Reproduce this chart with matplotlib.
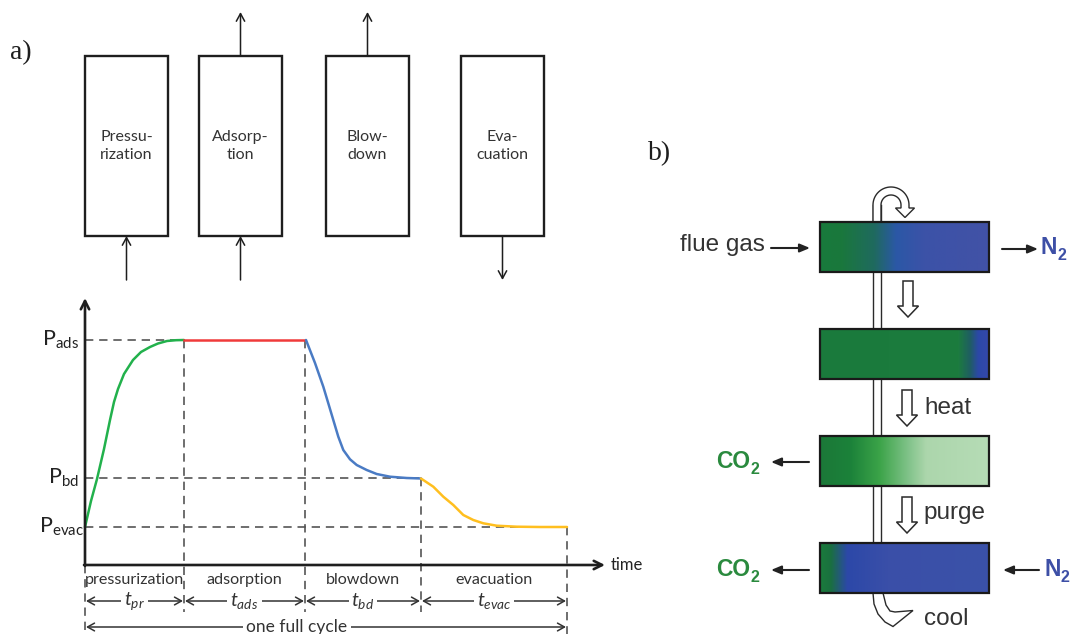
import numpy as np
import matplotlib
matplotlib.use('Agg')
import matplotlib.pyplot as plt
from matplotlib.patches import Rectangle, Polygon
from matplotlib.colors import LinearSegmentedColormap

plt.rcParams['mathtext.fontset'] = 'custom'
plt.rcParams['mathtext.rm'] = 'Lato'
plt.rcParams['mathtext.it'] = 'Lato:italic'
plt.rcParams['mathtext.bf'] = 'Liberation Sans:bold'

W, H = 1082, 634

# ---------------- data: panel a ----------------
phase_names = ['pressurization', 'adsorption', 'blowdown', 'evacuation']
box_labels = ['Pressu-\nrization', 'Adsorp-\ntion', 'Blow-\ndown', 'Eva-\ncuation']
time_subs = ['pr', 'ads', 'bd', 'evac']
flow_in_bottom = [True, True, False, False]
flow_out_top = [False, True, True, False]
flow_out_bottom = [False, False, False, True]

phase_bounds = [0.0, 9.9, 22.0, 33.6, 48.2]
P_ads, P_bd, P_evac = 22.5, 8.7, 3.8
level_labels = ['ads', 'bd', 'evac']

pr_t = [0.0, 0.6, 1.2, 1.9, 2.5, 2.9, 3.3, 3.9, 4.8, 5.6, 6.5, 7.3, 8.2, 9.1, 9.9]
pr_p = [3.8, 6.4, 8.6, 11.6, 14.5, 16.3, 17.6, 19.1, 20.5, 21.3, 21.8, 22.15, 22.4, 22.48, 22.5]
ads_t = [9.9, 22.0]
ads_p = [22.5, 22.5]
bd_t = [22.1, 23.0, 23.83, 24.33, 24.83, 25.33, 25.83, 26.5, 27.17, 28.17, 29.17, 30.5, 32.17, 33.6]
bd_p = [22.5, 20.2, 17.83, 16.17, 14.5, 12.83, 11.5, 10.57, 10.0, 9.5, 9.1, 8.83, 8.7, 8.65]
ev_t = [33.6, 34.83, 35.83, 36.83, 37.83, 38.83, 39.83, 41.17, 43.17, 45.5, 48.2]
ev_p = [8.65, 7.83, 6.83, 6.0, 5.0, 4.5, 4.17, 3.93, 3.83, 3.8, 3.8]

# ---------------- data: panel b ----------------
bar_stops = [
    [(0.0, '#187a3c'), (0.12, '#1a783c'), (0.32, '#1f6a5e'), (0.45, '#2b58a6'), (0.62, '#3c52a8'), (1.0, '#4252a6')],
    [(0.0, '#1a7a3c'), (0.82, '#1c7c3e'), (0.89, '#1f5e62'), (0.94, '#2c48a8'), (1.0, '#3448aa')],
    [(0.0, '#1b7838'), (0.18, '#1c823a'), (0.35, '#3ba348'), (0.52, '#7fc288'), (0.63, '#acd6ac'), (1.0, '#b6dcb6')],
    [(0.0, '#1a7a3c'), (0.06, '#1a703f'), (0.16, '#2c48a8'), (0.4, '#3a4fa8'), (1.0, '#3b52a8')],
]
step_labels = ['heat', 'purge', 'cool']

fig = plt.figure(figsize=(W / 100, H / 100), dpi=100)
ax = fig.add_axes([0, 0, 1, 1])
ax.set_xlim(0, W)
ax.set_ylim(H, 0)
ax.axis('off')

serif = 'Liberation Serif'
cal = 'Lato'
hel = 'Liberation Sans'
ink = '#1e1e1e'

# panel labels
ax.text(10, 53, 'a)', fontsize=20, family=serif, va='center', ha='left', color=ink)
ax.text(648, 154, 'b)', fontsize=20, family=serif, va='center', ha='left', color=ink)

# ---------------- top boxes ----------------
box_left = [85, 199, 326, 461]
box_w, box_top, box_bot = 83, 56, 236
arr_len = 44
for i, x0 in enumerate(box_left):
    ax.add_patch(Rectangle((x0, box_top), box_w, box_bot - box_top, fill=False,
                           lw=1.7, edgecolor=ink))
    cx = x0 + box_w / 2
    ax.text(cx, 146, box_labels[i], family=cal, fontsize=11.5, ha='center',
            va='center', linespacing=1.45, color='#333')
    ap = dict(arrowstyle='->,head_length=0.55,head_width=0.3', lw=1.1, color=ink,
              shrinkA=0, shrinkB=0)
    if flow_in_bottom[i]:
        ax.annotate('', xy=(cx, box_bot), xytext=(cx, box_bot + arr_len), arrowprops=ap)
    if flow_out_top[i]:
        ax.annotate('', xy=(cx, box_top - arr_len), xytext=(cx, box_top), arrowprops=ap)
    if flow_out_bottom[i]:
        ax.annotate('', xy=(cx, box_bot + arr_len), xytext=(cx, box_bot), arrowprops=ap)

# ---------------- pressure chart ----------------
axc = fig.add_axes([85 / W, (H - 565) / H, 520 / W, 267 / H])
axc.set_xlim(0, 52)
axc.set_ylim(0, 26.7)
axc.axis('off')
axc.patch.set_alpha(0)

dash = dict(color='#555555', lw=1.2, dashes=(5, 3.5), clip_on=False)
axc.plot([0, phase_bounds[1]], [P_ads, P_ads], **dash)
axc.plot([0, phase_bounds[3]], [P_bd, P_bd], **dash)
axc.plot([0, phase_bounds[4]], [P_evac, P_evac], **dash)
axc.plot([0, 0], [0, -6.9], **dash)
axc.plot([phase_bounds[1]] * 2, [P_ads, -4.7], **dash)
axc.plot([phase_bounds[2]] * 2, [P_ads, -4.7], **dash)
axc.plot([phase_bounds[3]] * 2, [P_bd, -4.7], **dash)
axc.plot([phase_bounds[4]] * 2, [P_evac, -6.9], **dash)

axc.plot(pr_t, pr_p, color='#22b14c', lw=1.8, clip_on=False, solid_capstyle='round')
axc.plot(ads_t, ads_p, color='#f03a3a', lw=1.8, clip_on=False)
axc.plot(bd_t, bd_p, color='#4a7bc4', lw=1.8, clip_on=False, solid_capstyle='round')
axc.plot(ev_t, ev_p, color='#ffbf1f', lw=1.8, clip_on=False, solid_capstyle='round')

axp = dict(arrowstyle='->,head_length=0.6,head_width=0.3', lw=1.9, color=ink,
           shrinkA=0, shrinkB=0)
axc.annotate('', xy=(52, 0), xytext=(-0.1, 0), arrowprops=axp, annotation_clip=False)
axc.annotate('', xy=(0, 26.7), xytext=(0, -0.1), arrowprops=axp, annotation_clip=False)
axc.text(52.6, 0, 'time', family=cal, fontsize=12, va='center', ha='left', color='#222')

for lab, lev, xoff in zip(level_labels, [P_ads, P_bd, P_evac], [-4.3, -3.7, -4.6]):
    axc.text(xoff, lev, r'$\mathrm{P}_{\mathrm{%s}}$' % lab, fontsize=15.5, ha='left',
             va='center', color='#222', clip_on=False)

for i, name in enumerate(phase_names):
    a, b = phase_bounds[i], phase_bounds[i + 1]
    m = (a + b) / 2
    axc.text(m, -1.5, name, family=cal, fontsize=11.6, ha='center', va='center',
             color='#333', clip_on=False)
    axc.annotate('', xy=(a + 0.1, -3.6), xytext=(b - 0.1, -3.6),
                 arrowprops=dict(arrowstyle='<->,head_length=0.5,head_width=0.28',
                                 lw=1.1, color='#333', shrinkA=0, shrinkB=0),
                 annotation_clip=False)
    axc.text(m, -3.6, r'$t_{%s}$' % time_subs[i], fontsize=14, ha='center',
             va='center', color='#333', clip_on=False,
             bbox=dict(boxstyle='square,pad=0.15', fc='white', ec='none'))

axc.annotate('', xy=(0.1, -6.2), xytext=(phase_bounds[-1] - 0.1, -6.2),
             arrowprops=dict(arrowstyle='<->,head_length=0.5,head_width=0.28',
                             lw=1.1, color='#333', shrinkA=0, shrinkB=0),
             annotation_clip=False)
axc.text(21.2, -6.2, 'one full cycle', family=cal, fontsize=12.5, ha='center',
         va='center', color='#333', clip_on=False,
         bbox=dict(boxstyle='square,pad=0.2', fc='white', ec='none'))

# ---------------- panel b ----------------
bar_x0, bar_x1 = 820, 989
bar_tops = [222, 329, 436, 543]
bar_h = 50
grad = np.linspace(0, 1, 400)[None, :]
for top, stops in zip(bar_tops, bar_stops):
    cmap = LinearSegmentedColormap.from_list('g', stops)
    ax.imshow(grad, cmap=cmap, extent=(bar_x0, bar_x1, top + bar_h, top),
              aspect='auto', zorder=3, interpolation='bilinear')
    ax.add_patch(Rectangle((bar_x0, top), bar_x1 - bar_x0, bar_h, fill=False,
                           lw=1.6, edgecolor='#1a1a1a', zorder=4))

# tube
tube_l, tube_r = 873, 881
for xx in (tube_l, tube_r):
    ax.plot([xx, xx], [205, bar_tops[-1]], color='#2a2a2a', lw=1.0, zorder=1)

# top loop arrow
cx, cy, ro, ri = 891, 205, 18, 10
th = np.linspace(np.pi, 0, 40)
outer = np.column_stack([cx + ro * np.cos(th), cy - ro * np.sin(th)])
inner = np.column_stack([cx + ri * np.cos(th[::-1]), cy - ri * np.sin(th[::-1])])
loop = np.vstack([[[tube_l, 222]], outer, [[909, 208], [914.5, 208], [905, 217.5],
                                            [895.5, 208], [901, 208]], inner,
                  [[tube_r, 222]]])
ax.add_patch(Polygon(loop, closed=True, fc='white', ec='#2a2a2a', lw=1.0, zorder=2))

# cool arrow
cool = [(873, 593), (874, 604), (878, 614), (885, 622), (893, 626.5), (913, 610.5),
        (895, 612), (890, 611), (886, 605), (883, 593)]
ax.add_patch(Polygon(cool, closed=True, fc='white', ec='#2a2a2a', lw=1.0, zorder=2))

# hollow down arrows
def hollow_down(xc, ytop, length=36):
    ybase = ytop + length - 11
    pts = [(xc - 5, ytop), (xc + 5, ytop), (xc + 5, ybase), (xc + 10.5, ybase),
           (xc, ytop + length), (xc - 10.5, ybase), (xc - 5, ybase)]
    ax.add_patch(Polygon(pts, closed=True, fc='white', ec='#2a2a2a', lw=1.1, zorder=2))

hollow_down(908, 281)
hollow_down(907, 390)
hollow_down(907, 497)
fs_b = 17.5
ax.text(924, 408, step_labels[0], family=hel, fontsize=fs_b, va='center', ha='left', color='#333')
ax.text(923, 513, step_labels[1], family=hel, fontsize=fs_b, va='center', ha='left', color='#333')
ax.text(924, 619, step_labels[2], family=hel, fontsize=fs_b, va='center', ha='left', color='#333')

# side flows
sap = dict(arrowstyle='-|>,head_length=0.6,head_width=0.25', lw=1.5, color='#222',
           shrinkA=0, shrinkB=0)
ax.text(765, 245, 'flue gas', family=hel, fontsize=fs_b, ha='right', va='center', color='#333')
ax.annotate('', xy=(810, 248), xytext=(771, 248), arrowprops=sap)
ax.annotate('', xy=(1038, 249), xytext=(1002, 249), arrowprops=sap)
green_t, blue_t = '#2a8a3e', '#3d4fa6'

fig.canvas.draw()
renderer = fig.canvas.get_renderer()


def chem(x, y, main, sub, color):
    t = ax.text(x, y, main, family=hel, weight='bold', fontsize=16.5, ha='left',
                va='center', color=color)
    bb = t.get_window_extent(renderer)
    x_end = ax.transData.inverted().transform((bb.x1, bb.y0))[0]
    ax.text(x_end + 0.5, y + 8, sub, family=hel, weight='bold', fontsize=11.5,
            ha='left', va='center', color=color)


chem(1041, 248, 'N', '2', blue_t)
for yy in (462, 570):
    chem(716, yy, 'CO', '2', green_t)
    ax.annotate('', xy=(771, yy), xytext=(809, yy), arrowprops=sap)
ax.annotate('', xy=(1003, 570), xytext=(1039, 570), arrowprops=sap)
chem(1044, 570, 'N', '2', blue_t)

fig.savefig('out.png', dpi=100)
